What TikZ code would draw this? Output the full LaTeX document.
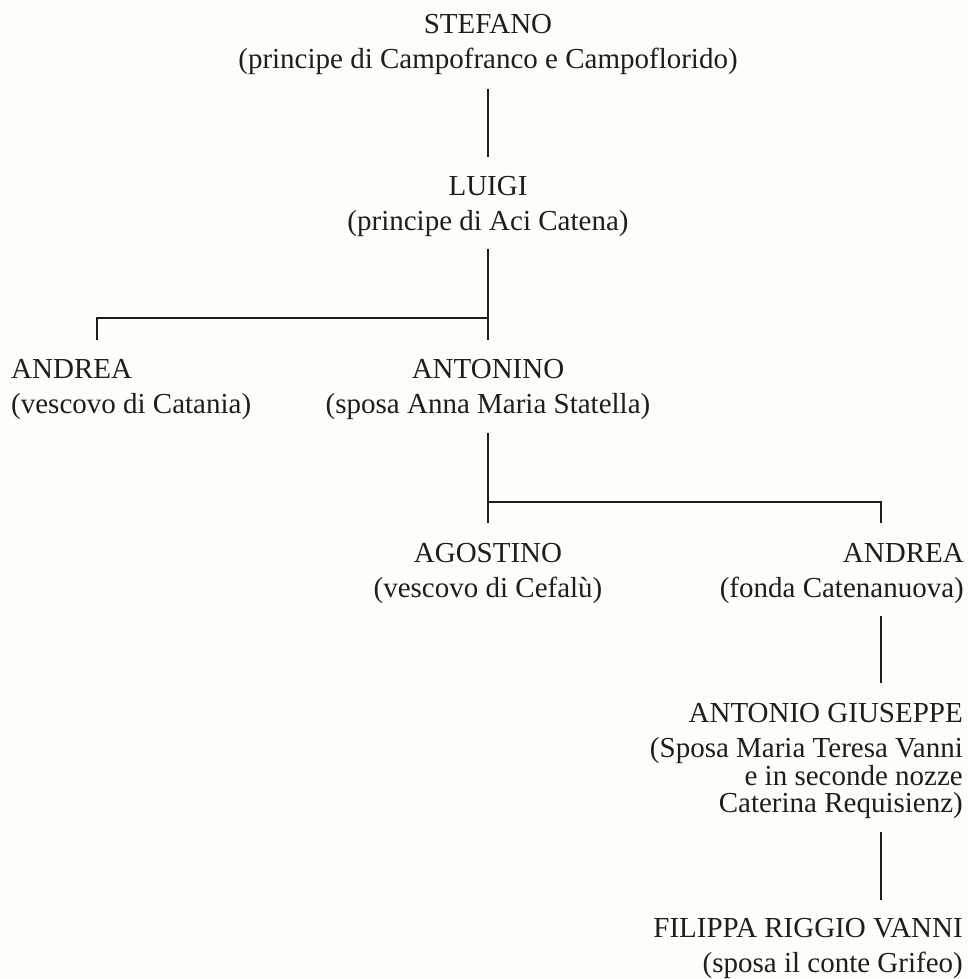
\documentclass[tikz,border=0pt]{standalone}
\usepackage{fontspec}
\setmainfont{Liberation Serif}
\definecolor{paper}{RGB}{254,253,248}
\definecolor{ink}{RGB}{30,30,30}

\begin{document}
\begin{tikzpicture}[x=1pt,y=-1pt,
    person/.style={inner sep=0pt,text=ink,align=center,anchor=north,
      font=\fontsize{29}{27.5}\selectfont},
    link/.style={draw=ink,line width=2pt}]
      \fill[paper] (0,0) rectangle (968,979) ;
      \useasboundingbox (0,0) rectangle (968,979) ;
      \node[person] %
      (stefano) at (488,14) {STEFANO\\[7.5pt](principe di Campofranco e Campoflorido)} ;
      \node[person] %
      (luigi) at (488,176) {LUIGI\\[7.5pt](principe di Aci Catena)} ;
      \node[person,align=left,anchor=north west] %
      (andreaA) at (11,359) {ANDREA\\[7.5pt](vescovo di Catania)} ;
      \node[person] %
      (antonino) at (488,359) {ANTONINO\\[7.5pt](sposa Anna Maria Statella)} ;
      \node[person] %
      (agostino) at (488,543) {AGOSTINO\\[7.5pt](vescovo di Cefalù)} ;
      \node[person,align=right,anchor=north east] %
      (andreaB) at (964,543) {ANDREA\\[7.5pt](fonda Catenanuova)} ;
      \node[person,align=right,anchor=north east] %
      (antgiuseppe) at (963,703) {ANTONIO GIUSEPPE\\[8pt](Sposa Maria Teresa Vanni\\e in seconde nozze\\Caterina Requisienz)} ;
      \node[person,align=right,anchor=north east] %
      (filippa) at (963,918) {FILIPPA RIGGIO VANNI\\[7.5pt](sposa il conte Grifeo)} ;
      \coordinate (fork1) at (488,318) ;
      \coordinate (tick1) at (97,340) ;
      \coordinate (fork2) at (488,502) ;
      \coordinate (tick2) at (881,523) ;
      \draw[link,shorten <=14pt,shorten >=19pt] (stefano.south) -- (luigi.north) ;
      \draw[link,shorten <=12pt,shorten >=19pt] (luigi.south) -- (antonino.north) ;
      \draw[link] (fork1) -| (tick1) ;
      \draw[link,shorten <=13pt,shorten >=20pt] (antonino.south) -- (agostino.north) ;
      \draw[link] (fork2) -| (tick2) ;
      \draw[link,shorten <=12pt,shorten >=20pt] (andreaB.south -| tick2) -- (antgiuseppe.north -| tick2) ;
      \draw[link,shorten <=13pt,shorten >=18pt] (antgiuseppe.south -| tick2) -- (filippa.north -| tick2) ;
    \end{tikzpicture}
\end{document}
